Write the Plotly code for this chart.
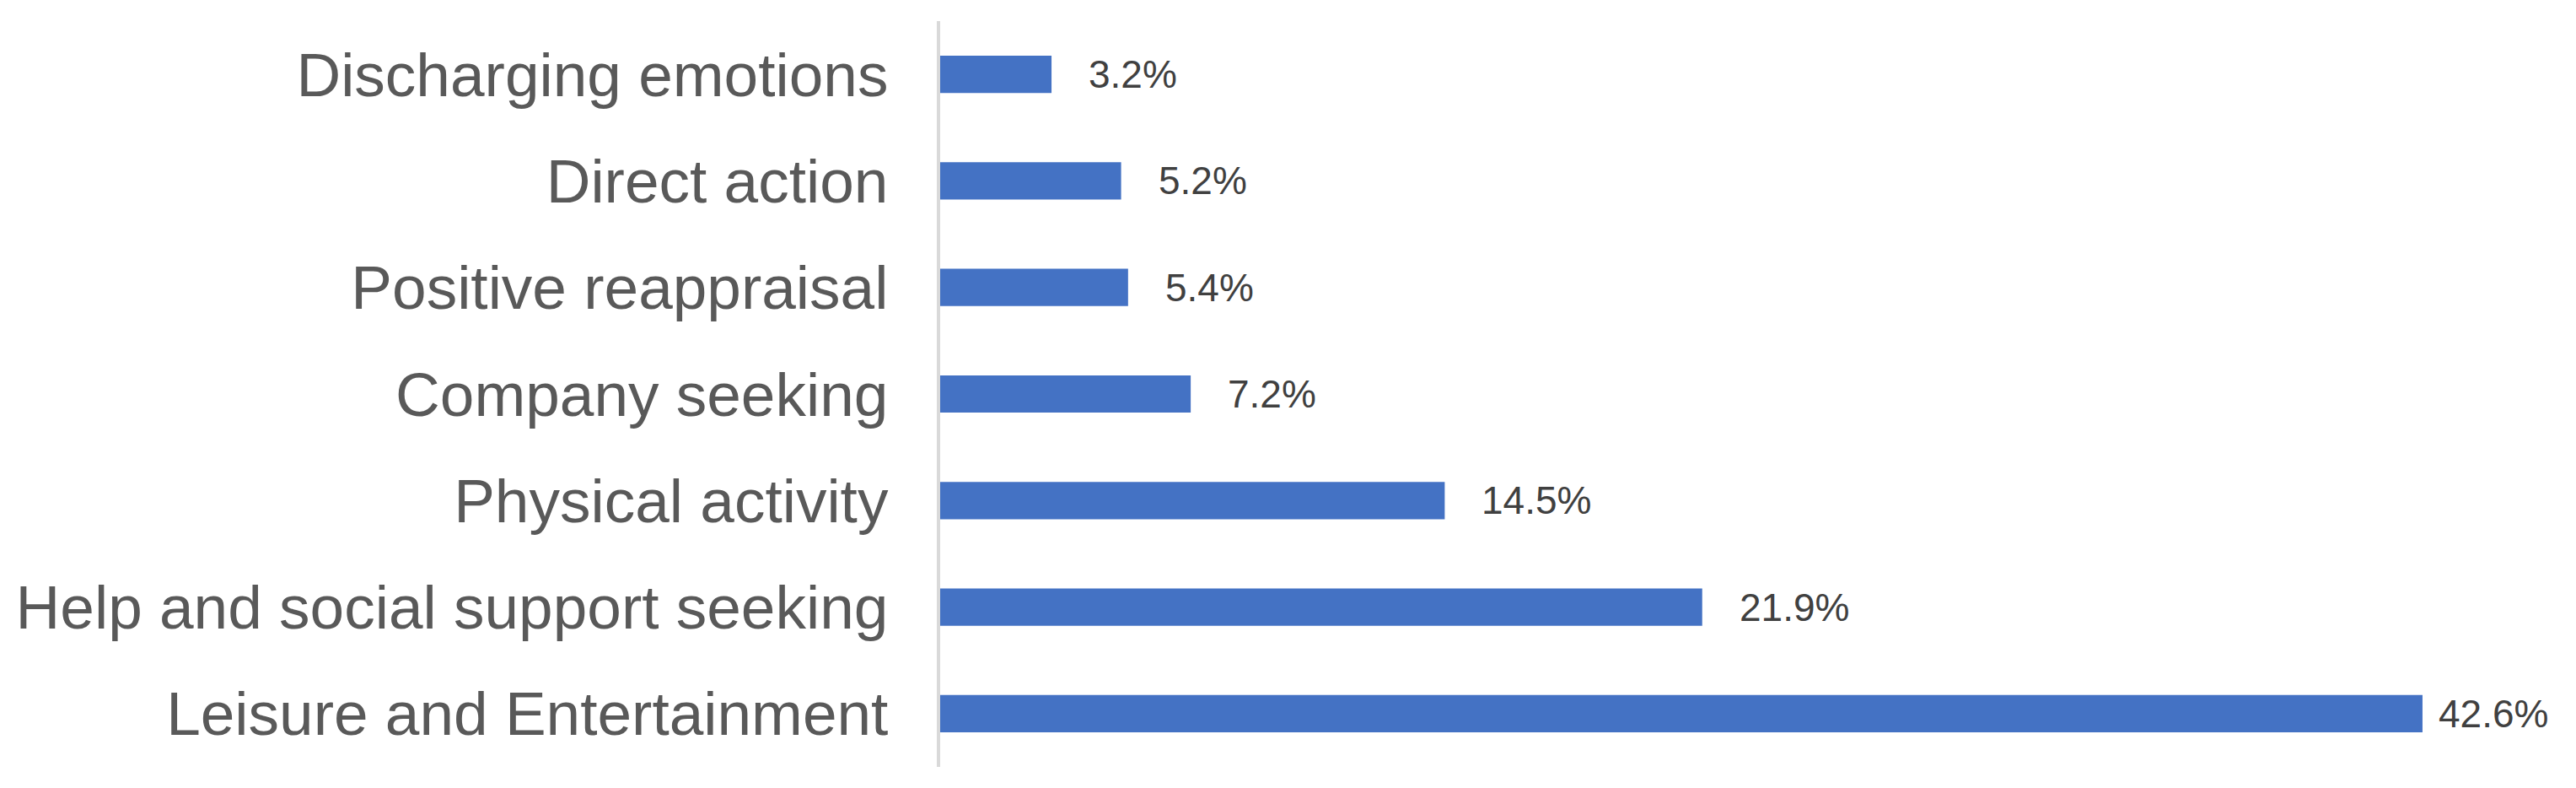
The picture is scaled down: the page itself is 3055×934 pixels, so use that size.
import plotly.graph_objects as go

# Datos (de arriba hacia abajo)
categorias = [
    "Discharging emotions",
    "Direct action",
    "Positive reappraisal",
    "Company seeking",
    "Physical activity",
    "Help and social support seeking",
    "Leisure and Entertainment",
]
porcentajes = [3.2, 5.2, 5.4, 7.2, 14.5, 21.9, 42.6]
etiquetas = ["3.2%", "5.2%", "5.4%", "7.2%", "14.5%", "21.9%", "42.6%"]

COLOR_BARRA = "#4472C4"
COLOR_EJE = "#D9D9D9"
COLOR_TEXTO = "#595959"
COLOR_ETIQUETA = "#404040"

fig = go.Figure()

fig.add_trace(go.Bar(
    x=porcentajes,
    y=categorias,
    orientation="h",
    width=0.35,
    marker=dict(color=COLOR_BARRA, line=dict(width=0)),
    showlegend=False,
    hoverinfo="skip",
))

# Etiquetas de datos a la derecha de cada barra
for cat, val, txt in zip(categorias, porcentajes, etiquetas):
    desplaz = 17 if val == max(porcentajes) else 42
    fig.add_annotation(
        x=val, y=cat, text=txt,
        xref="x", yref="y",
        xanchor="left", yanchor="middle",
        xshift=desplaz, showarrow=False,
        font=dict(family="Liberation Sans", size=46, color=COLOR_ETIQUETA),
    )

fig.update_layout(
    width=3055,
    height=934,
    plot_bgcolor="white",
    paper_bgcolor="white",
    margin=dict(l=1107, r=91, t=17, b=33),
    xaxis=dict(
        range=[0, 45],
        visible=False,
        showgrid=False,
        zeroline=False,
        automargin=False,
    ),
    yaxis=dict(
        autorange="reversed",
        automargin=False,
        showgrid=False,
        zeroline=False,
        showline=True,
        linecolor=COLOR_EJE,
        linewidth=4,
        ticks="",
        ticklabelstandoff=43,
        tickfont=dict(family="Liberation Sans", size=73, color=COLOR_TEXTO),
    ),
)

fig.write_html("out.html")
